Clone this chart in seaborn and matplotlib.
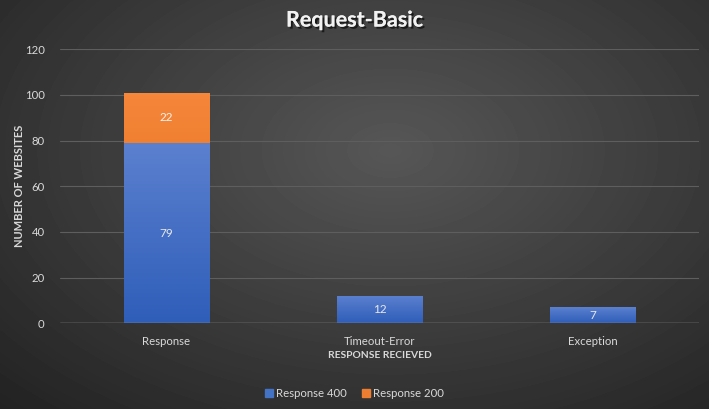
import numpy as np
import pandas as pd
import matplotlib
matplotlib.use("Agg")
import matplotlib.pyplot as plt
import matplotlib.patheffects as pe
from matplotlib.colors import LinearSegmentedColormap
import seaborn as sns

# ── data ───────────────────────────────────────────────
categories = ["Response", "Timeout-Error", "Exception"]
resp_400 = [79, 12, 7]
resp_200 = [22, 0, 0]
y_ticks = [0, 20, 40, 60, 80, 100, 120]

totals = [a + b for a, b in zip(resp_400, resp_200)]
df = pd.DataFrame({"cat": categories, "r400": resp_400, "r200": resp_200, "total": totals})

sns.set_style("dark")
plt.rcParams["font.family"] = ["Lato", "DejaVu Sans"]

TXT = "#d9d9d9"
BLUE = "#4472c4"
ORANGE = "#ed7d31"

fig = plt.figure(figsize=(7.09, 4.09), dpi=100)

# radial gradient background
bg = fig.add_axes([0, 0, 1, 1], zorder=-5)
yy, xx = np.mgrid[0:409, 0:709]
r = np.sqrt(((xx - 390) / 520.0) ** 2 + ((yy - 150) / 330.0) ** 2)
shade = np.clip(0.34 - 0.19 * r, 0.13, 0.34)
bg.imshow(shade, cmap="gray", vmin=0, vmax=1, aspect="auto", extent=[0, 1, 0, 1])
bg.axis("off")

ax = fig.add_axes([0.0846, 0.2095, 0.9014, 0.67])
ax.patch.set_alpha(0)

# stacked bars: totals (orange) underneath, 400s (blue) on top
sns.barplot(data=df, x="cat", y="total", color=ORANGE, width=0.4, saturation=1, ax=ax, zorder=3)
sns.barplot(data=df, x="cat", y="r400", color=BLUE, width=0.4, saturation=1, ax=ax, zorder=3)

blue_cm = LinearSegmentedColormap.from_list("b", ["#2f5eb9", "#5b80cf"])
orange_cm = LinearSegmentedColormap.from_list("o", ["#e06a10", "#f5863a"])
for i, p in enumerate(ax.patches):
    cm = orange_cm if i < len(categories) else blue_cm
    x0, y0, w, h = p.get_x(), p.get_y(), p.get_width(), p.get_height()
    if h <= 0:
        continue
    grad = np.linspace(1, 0, 64).reshape(-1, 1)
    im = ax.imshow(grad, cmap=cm, aspect="auto", extent=[x0, x0 + w, y0, y0 + h],
                   zorder=3.5, vmin=0, vmax=1)
    im.set_clip_path(p)
    p.set_facecolor("none")
    p.set_edgecolor("none")

ax.set_xlim(-0.5, 2.5)
ax.set_ylim(0, 120)

# value labels
for i, (a, b) in enumerate(zip(resp_400, resp_200)):
    ax.text(i, a / 2, str(a), ha="center", va="center", color="#e8e8e8", fontsize=8.5, zorder=5)
    if b > 0:
        ax.text(i, a + b / 2, str(b), ha="center", va="center", color="#f2f2f2", fontsize=8.5, zorder=5)

ax.set_yticks(y_ticks)
ax.yaxis.grid(True, color="#5e5e5e", linewidth=0.8, zorder=0)
ax.xaxis.grid(False)
ax.axhline(0, color="#9a9a9a", linewidth=1, zorder=4)
for s in ax.spines.values():
    s.set_visible(False)
ax.tick_params(axis="both", colors=TXT, labelsize=8.2, length=0)
ax.tick_params(axis="y", pad=11)
ax.tick_params(axis="x", pad=9)

ax.set_xlabel("RESPONSE RECIEVED", color=TXT, fontsize=7.4, fontweight="bold", labelpad=3)
ax.set_ylabel("")
fig.text(20 / 709, 0.545, "NUMBER OF WEBSITES", rotation=90, ha="center", va="center",
         color=TXT, fontsize=8, fontweight="bold")

fig.text(0.5, 0.951, "Request-Basic", ha="center", va="center", color="#f2f2f2",
         fontsize=15.5, fontweight="bold",
         path_effects=[pe.withSimplePatchShadow(offset=(1.5, -1.5), shadow_rgbFace="black", alpha=0.6), pe.Normal()])

handles = [plt.Rectangle((0, 0), 1, 1, color=BLUE), plt.Rectangle((0, 0), 1, 1, color=ORANGE)]
fig.legend(handles, ["Response 400", "Response 200"], loc="center", bbox_to_anchor=(0.5, 0.039),
           ncol=2, frameon=False, fontsize=8.2, labelcolor=TXT, handlelength=0.7, handleheight=0.7,
           handletextpad=0.3, columnspacing=1.3)

fig.savefig("out.png", dpi=100)
